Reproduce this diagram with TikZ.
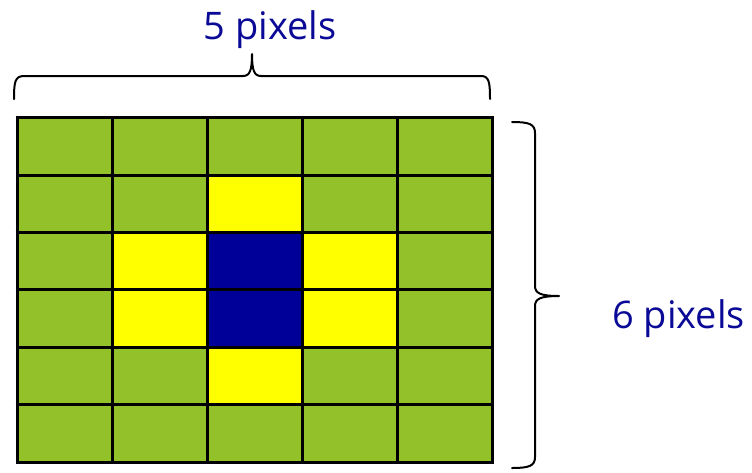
\documentclass[tikz,border=0pt]{standalone}
\usepackage{fontspec}
\setmainfont{Open Sans}
\definecolor{cgreen}{RGB}{147,193,41}
\definecolor{cyellow}{RGB}{255,255,0}
\definecolor{cblue}{RGB}{0,0,153}
\definecolor{ctext}{RGB}{10,10,150}
\tikzset{
  lbl/.style={text=ctext, font=\fontsize{38}{45}\selectfont, inner sep=0pt},
  bracepath/.style={line width=2pt, black, line cap=round, line join=round},
  gridline/.style={line width=3pt, black}
}
\begin{document}
\begin{tikzpicture}[x=1pt,y=-1pt]
\useasboundingbox (0,0) rectangle (752,472);
% cells: colour map rows 0..5, cols 0..4
\def\cw{95}\def\ch{57.4}
\foreach \r/\c/\col in {
 0/0/cgreen,0/1/cgreen,0/2/cgreen,0/3/cgreen,0/4/cgreen,
 1/0/cgreen,1/1/cgreen,1/2/cyellow,1/3/cgreen,1/4/cgreen,
 2/0/cgreen,2/1/cyellow,2/2/cblue,2/3/cyellow,2/4/cgreen,
 3/0/cgreen,3/1/cyellow,3/2/cblue,3/3/cyellow,3/4/cgreen,
 4/0/cgreen,4/1/cgreen,4/2/cyellow,4/3/cgreen,4/4/cgreen,
 5/0/cgreen,5/1/cgreen,5/2/cgreen,5/3/cgreen,5/4/cgreen}{
  \fill[\col] ({17+\c*\cw},{117.7+\r*\ch}) rectangle ({17+(\c+1)*\cw},{117.7+(\r+1)*\ch});
}
\foreach \c in {0,...,5} \draw[gridline] ({17+\c*\cw},116.2) -- ({17+\c*\cw},463.6);
\foreach \r in {0,...,6} \draw[gridline] (15.5,{117.7+\r*\ch}) -- (493.5,{117.7+\r*\ch});
% top brace
\draw[bracepath] (14,99) .. controls (14,82) and (15,76) .. (24,76) -- (243,76)
  .. controls (250,76) and (252,70) .. (252,54)
  .. controls (252,70) and (254,76) .. (261,76) -- (481,76)
  .. controls (489,76) and (490,82) .. (490,99);
% right brace
\draw[bracepath] (512,122) .. controls (529,122) and (535,124) .. (535,133) -- (535,286)
  .. controls (535,293) and (540,296) .. (559,296)
  .. controls (540,296) and (535,299) .. (535,306) -- (535,457)
  .. controls (535,466) and (529,468) .. (512,468);
\node[lbl, anchor=base] (w) at (270,39) {5 pixels};
\node[lbl, anchor=base west] (h) at (612,328) {6 pixels};
\end{tikzpicture}
\end{document}
